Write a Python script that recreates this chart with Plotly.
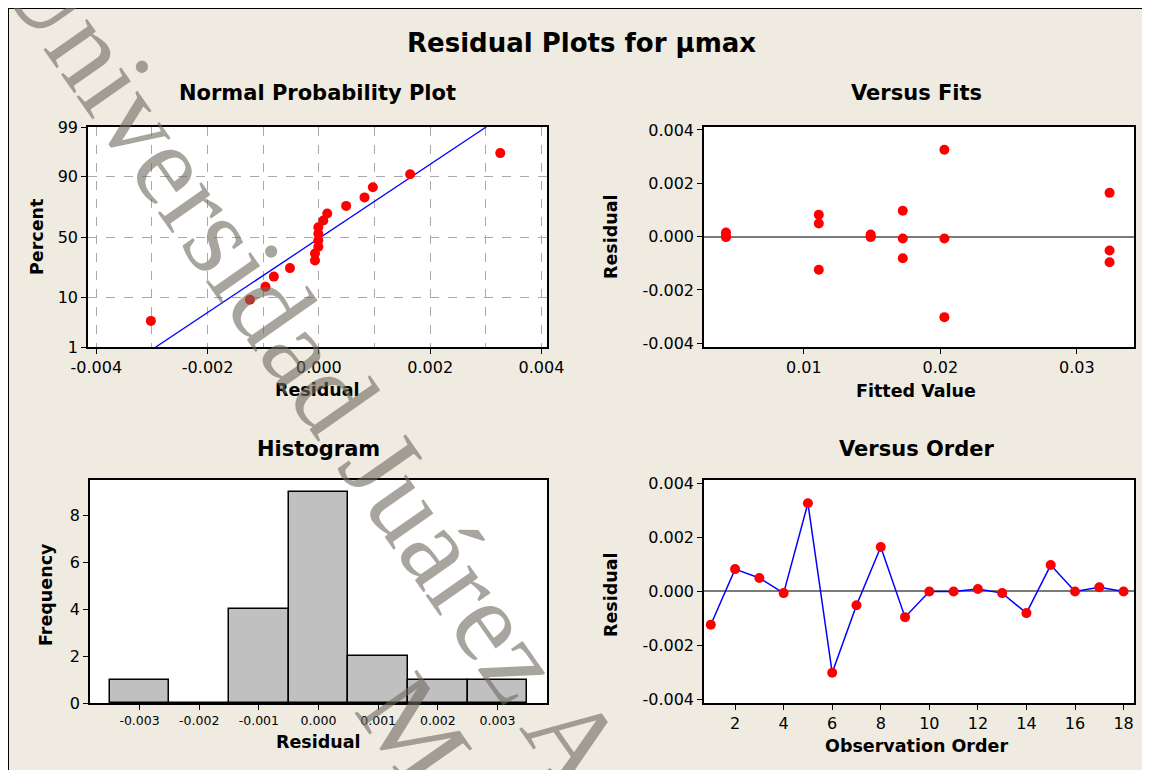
import plotly.graph_objects as go
from statistics import NormalDist, mean, stdev

# page offset of the figure inside the html body (default body margin)
OX, OY = 8, 8
W, H = 1150 - OX, 770 - OY

# ---------------- data ----------------
observation_order = [1, 2, 3, 4, 5, 6, 7, 8, 9, 10, 11, 12, 13, 14, 15, 16, 17, 18]
residuals = [-0.00124, 0.00082, 0.00049, -0.00007, 0.00326, -0.00302,
             -0.00052, 0.00164, -0.00096, -0.00001, -0.00001, 0.00008,
             -0.00007, -0.00081, 0.00097, -0.00001, 0.00015, -0.00001]
fitted_values = [0.0111, 0.0111, 0.0111, 0.0203, 0.0203, 0.0203,
                 0.0324, 0.0324, 0.0324, 0.0149, 0.0149, 0.0149,
                 0.01725, 0.01725, 0.01725, 0.0043, 0.0043, 0.0043]

hist_centers = [-0.003, -0.002, -0.001, 0.000, 0.001, 0.002, 0.003]
hist_counts = [1, 0, 4, 9, 2, 1, 1]
hist_ticktext = ["-0.003", "-0.002", "-0.001", "0.000", "0.001", "0.002", "0.003"]

npp_xticks = [-0.004, -0.002, 0.0, 0.002, 0.004]
npp_xticktext = ["-0.004", "-0.002", "0.000", "0.002", "0.004"]
npp_pct_ticks = [1, 10, 50, 90, 99]
resid_ticks = [-0.004, -0.002, 0.0, 0.002, 0.004]
resid_ticktext = ["-0.004", "-0.002", "0.000", "0.002", "0.004"]
fit_ticks = [0.01, 0.02, 0.03]
fit_ticktext = ["0.01", "0.02", "0.03"]
order_ticks = [2, 4, 6, 8, 10, 12, 14, 16, 18]
freq_ticks = [0, 2, 4, 6, 8]

# ---------------- derived (normal probability plot) ----------------
nd = NormalDist()
n = len(residuals)
sorted_res = sorted(residuals)
npp_z = [nd.inv_cdf((i - 0.3) / (n + 0.4)) for i in range(1, n + 1)]
mu, sd = mean(residuals), stdev(residuals)
z_lo, z_hi = nd.inv_cdf(0.01), nd.inv_cdf(0.99)
line_z = [z_lo, z_hi]
line_x = [mu + sd * z for z in line_z]

# ---------------- style ----------------
BEIGE = "#EFEBE1"
RED = "#FF0000"
BLUE = "#0000FF"
FONT = "DejaVu Sans"
GRID = "#A9A9A9"


def px(x):
    return (x - OX) / W


def py(y):
    return 1 - (y - OY) / H


fig = go.Figure()

# Normal probability plot
fig.add_trace(go.Scatter(x=line_x, y=line_z, mode="lines",
                         line=dict(color=BLUE, width=1.3),
                         xaxis="x", yaxis="y", showlegend=False))
fig.add_trace(go.Scatter(x=sorted_res, y=npp_z, mode="markers",
                         marker=dict(color=RED, size=10),
                         xaxis="x", yaxis="y", showlegend=False))
# Versus fits
fig.add_trace(go.Scatter(x=fitted_values, y=residuals, mode="markers",
                         marker=dict(color=RED, size=10),
                         xaxis="x2", yaxis="y2", showlegend=False))
# Histogram
fig.add_trace(go.Bar(x=hist_centers, y=hist_counts, width=0.001,
                     marker=dict(color="#C0C0C0", line=dict(color="black", width=1.5)),
                     xaxis="x3", yaxis="y3", showlegend=False))
# Versus order
fig.add_trace(go.Scatter(x=observation_order, y=residuals, mode="lines+markers",
                         line=dict(color=BLUE, width=1.5),
                         marker=dict(color=RED, size=10),
                         xaxis="x4", yaxis="y4", showlegend=False))

axis_common = dict(showline=True, linecolor="black", linewidth=1.5, mirror=True,
                   ticks="outside", ticklen=5, tickwidth=1, tickcolor="black",
                   tickfont=dict(family=FONT, size=16, color="black"),
                   zeroline=False, showgrid=False, automargin=False)

top_y = [347, 127]
bot_y = [703, 480]
left_x = [88, 547]
right_x = [704, 1134]

fig.update_layout(
    template="none",
    width=W, height=H,
    margin=dict(l=0, r=0, t=0, b=0, pad=0),
    paper_bgcolor=BEIGE, plot_bgcolor="white",
    bargap=0,
    xaxis=dict(axis_common, domain=[px(left_x[0]), px(left_x[1])], anchor="y",
               range=[-0.00415, 0.0041], tickmode="array", tickvals=npp_xticks,
               ticktext=npp_xticktext, showgrid=True, gridcolor=GRID,
               griddash="dash", gridwidth=1,
               minor=dict(tick0=0, dtick=0.001, showgrid=True, gridcolor=GRID,
                          griddash="dash", gridwidth=1)),
    yaxis=dict(axis_common, domain=[py(top_y[0]), py(top_y[1])], anchor="x",
               range=[z_lo, z_hi], tickmode="array",
               tickvals=[nd.inv_cdf(p / 100) for p in npp_pct_ticks],
               ticktext=[str(p) for p in npp_pct_ticks],
               showgrid=True, gridcolor=GRID, griddash="dash", gridwidth=1),
    xaxis2=dict(axis_common, domain=[px(right_x[0]), px(right_x[1])], anchor="y2",
                range=[0.00269, 0.03419], tickmode="array", tickvals=fit_ticks,
                ticktext=fit_ticktext),
    yaxis2=dict(axis_common, domain=[py(top_y[0]), py(top_y[1])], anchor="x2",
                range=[-0.00414, 0.00411], tickmode="array", tickvals=resid_ticks,
                ticktext=resid_ticktext, zeroline=True, zerolinecolor="#7A7A7A",
                zerolinewidth=2),
    xaxis3=dict(axis_common, domain=[px(90), px(547)], anchor="y3",
                range=[-0.00383, 0.00383], tickmode="array", tickvals=hist_centers,
                ticktext=hist_ticktext, tickfont=dict(family=FONT, size=12.5, color="black")),
    yaxis3=dict(axis_common, domain=[py(bot_y[0]), py(bot_y[1])], anchor="x3",
                range=[0, 9.49], tickmode="array", tickvals=freq_ticks,
                ticktext=[str(v) for v in freq_ticks]),
    xaxis4=dict(axis_common, domain=[px(right_x[0]), px(right_x[1])], anchor="y4",
                range=[0.72, 18.43], tickmode="array", tickvals=order_ticks,
                ticktext=[str(v) for v in order_ticks]),
    yaxis4=dict(axis_common, domain=[py(bot_y[0]), py(bot_y[1])], anchor="x4",
                range=[-0.00414, 0.00412], tickmode="array", tickvals=resid_ticks,
                ticktext=resid_ticktext, zeroline=True, zerolinecolor="#7A7A7A",
                zerolinewidth=2),
)

# frame border lines (top and left edge of the beige panel)
fig.add_shape(type="line", xref="paper", yref="paper", x0=0, x1=1, y0=py(8), y1=py(8),
              line=dict(color="black", width=2))
fig.add_shape(type="line", xref="paper", yref="paper", x0=px(8), x1=px(8), y0=py(8), y1=0,
              line=dict(color="black", width=2))


def label(text, x, y, size, angle=0, bold=True):
    fig.add_annotation(text=f"<b>{text}</b>" if bold else text, x=px(x), y=py(y),
                       xref="paper", yref="paper", showarrow=False,
                       xanchor="center", yanchor="middle", textangle=angle,
                       font=dict(family=FONT, size=size, color="black"))


label("Residual Plots for µmax", 581, 43, 26)
label("Normal Probability Plot", 317, 93, 21)
label("Versus Fits", 916, 93, 21)
label("Histogram", 318, 449, 21)
label("Versus Order", 916, 449, 21)
label("Residual", 317, 390, 17.5)
label("Fitted Value", 916, 391, 17.5)
label("Residual", 318, 742, 17.5)
label("Observation Order", 916, 746, 17.5)
label("Percent", 37, 237, 17.5, angle=-90)
label("Residual", 611, 237, 17.5, angle=-90)
label("Frequency", 46, 595, 17.5, angle=-90)
label("Residual", 611, 595, 17.5, angle=-90)

# watermark
WM = "rgba(110,105,95,0.6)"
fig.add_annotation(text="Universidad Juárez A", x=px(312), y=py(365), xref="paper", yref="paper",
                   showarrow=False, xanchor="center", yanchor="middle", textangle=55,
                   font=dict(family="Liberation Serif", size=116, color=WM))
fig.add_annotation(text="M", x=px(414), y=py(730), xref="paper", yref="paper",
                   showarrow=False, xanchor="center", yanchor="middle", textangle=55,
                   font=dict(family="Liberation Serif", size=116, color=WM))

fig.write_html("out.html")
